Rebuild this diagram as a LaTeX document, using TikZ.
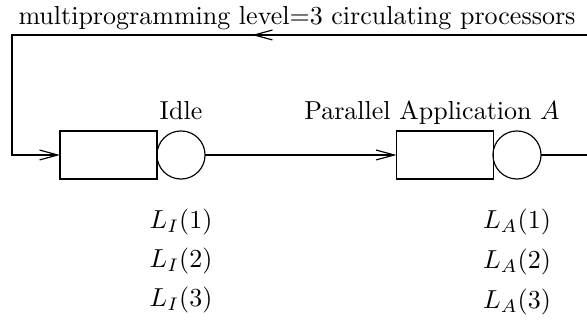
\documentclass[tikz,border=0pt]{standalone}
\usetikzlibrary{arrows.meta}
\begin{document}
\begin{tikzpicture}[x=0.3846pt, y=-0.3846pt,
  line width=0.45pt,
  barb/.style={-{Straight Barb[length=7pt,width=3.8pt,line width=0.45pt]}},
  queue/.style={draw, rectangle, minimum width=37.3pt, minimum height=18.5pt, inner sep=0pt, outer sep=0pt},
  server/.style={draw, circle, minimum size=18.5pt, inner sep=0pt, outer sep=0pt},
  lbl/.style={anchor=base, inner sep=0pt}]
\useasboundingbox (0,0) rectangle (587,324);

% stations: queue box followed by its server
\node[queue]  (qI) at (108.5,155) {};
\node[server] (sI) at (181,155) {};
\node[queue]  (qA) at (445,155) {};
\node[server] (sA) at (517,155) {};

% ends of the return path
\coordinate (tr) at (600,35);
\coordinate (tl) at (12,35);
\coordinate (bl) at (12,155);
\coordinate (out) at (600,155);
\coordinate (mA) at (300,35);
\coordinate (mB) at (252,35);

% connectors
\draw[barb] (sI.east) -- (qA.west);
\draw (sA.east) -- (out);
\draw[barb] (tr) -- (tl) -- (bl) -- (qI.west);
\draw[barb, line width=0.8pt] (mA) -- (mB);

% labels
\node[lbl] (tt) at (297,25) {multiprogramming level=3 circulating processors};
\node[lbl] (tI) at (181,120) {Idle};
\node[lbl] (tA) at (432,120) {Parallel Application $A$};

\node[lbl] (LI1) at (181,229) {$L_I(1)$};
\node[lbl] (LI2) at (181,268) {$L_I(2)$};
\node[lbl] (LI3) at (181,307) {$L_I(3)$};
\node[lbl] (LA1) at (517,229) {$L_A(1)$};
\node[lbl] (LA2) at (517,269) {$L_A(2)$};
\node[lbl] (LA3) at (517,309) {$L_A(3)$};
\end{tikzpicture}
\end{document}
